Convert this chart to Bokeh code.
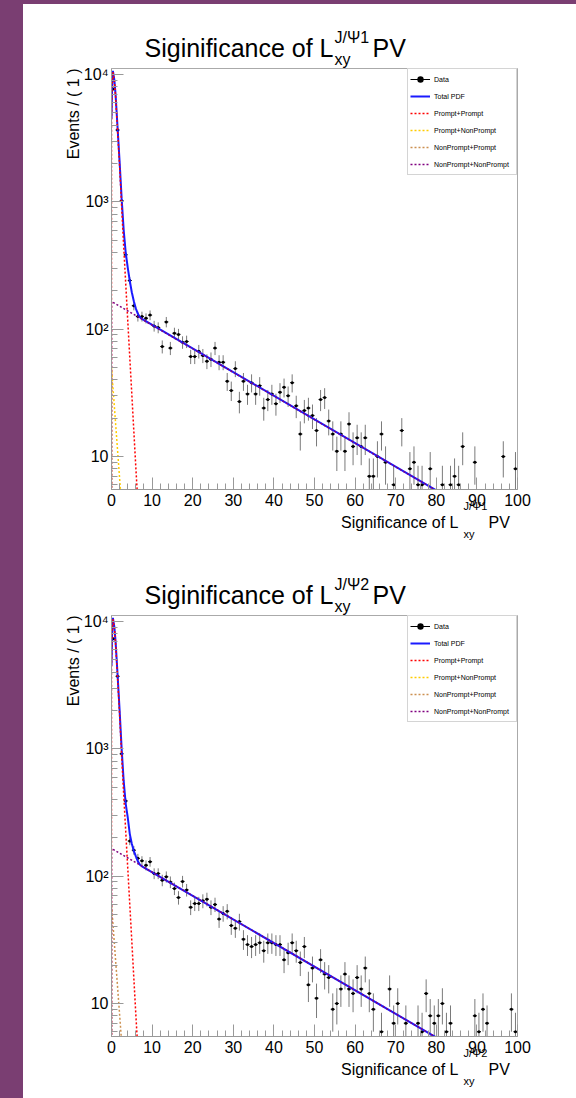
import math
from bokeh.plotting import figure
from bokeh.models import (Range1d, FixedTicker, Label, Legend, LegendItem,
                          ColumnDataSource, Spacer, GridBox)
from bokeh.layouts import column, row
from bokeh.embed import file_html
from bokeh.resources import INLINE

# ---------------- data ----------------
bin_lo, bin_hi, n_bins = 0.0, 100.0, 100

counts_psi1 = [7700, 3670, 1020, 384, 241, 153, 126, 126, 122, 129,
               106, 103, 73, 114, 71, 93, 91, 79, 80, 61,
               61, 67, 62, 56, 58, 71, 55, 55, 39, 33,
               49, 27, 39, 31, 38, 31, 36, 24, 28, 31,
               26, 32, 35, 30, 38, 25, 15, 23, 24, 21,
               16, 28, 29, 19, 15, 11, 15, 11, 18, 12,
               14, 12, 14, 7, 7, 10, 15, 9, 3, 6,
               3, 16, 2, 8, 9, 6, 6, 3, 8, 3,
               2, 6, 3, 6, 7, 6, 12, 2, 3, 9,
               2, 3, 2, 3, 2, 2, 10, 3, 2, 8]

counts_psi2 = [7330, 3720, 915, 390, 189, 160, 138, 132, 122, 130,
               105, 105, 93, 99, 90, 80, 68, 91, 78, 57,
               61, 61, 64, 66, 57, 60, 46, 51, 53, 41,
               39, 44, 32, 29, 28, 29, 30, 26, 30, 30,
               29, 29, 22, 25, 30, 26, 21, 28, 14, 19,
               11, 22, 17, 16, 9, 10, 13, 17, 13, 12,
               16, 13, 19, 12, 9, 3, 6, 3, 13, 7,
               10, 2, 7, 3, 2, 7, 6, 12, 8, 7,
               8, 10, 6, 7, 3, 2, 3, 2, 3, 8,
               6, 9, 7, 2, 3, 2, 3, 2, 9, 6]

# fitted curves (x, value)
total1_x = [0.0, 0.15, 0.35, 0.7, 1.0, 1.5, 2.0, 2.5, 3.0, 3.5, 4.0, 4.5, 5.0, 5.5, 6.0, 6.5, 7.0, 7.5, 100.0]
total1_y = [4500, 8200, 10700, 9100, 7000, 3800, 2060, 1060, 600, 400, 305, 240, 195, 166, 145, 132, 124, 120.5, 2.3]
pp1_x = [0.0, 0.0, 0.15, 0.35, 0.7, 1.0, 1.5, 2.0, 2.5, 3.0, 3.5, 4.0, 4.5, 5.0, 5.5, 6.0, 6.5, 7.0]
pp1_y = [1, 4300, 8000, 10500, 8900, 6800, 3630, 1900, 910, 447, 229, 117, 60, 31, 15.8, 8.1, 4.3, 2.2]
pnp1_x = [0.0, 0.0, 3.0]
pnp1_y = [1, 50, 2.46]
npp1_x = [0.0, 2.0]
npp1_y = [1.0, 0.1]
npnp1_x = [0.0, 0.0, 100.0]
npnp1_y = [1, 165, 2.3]

total2_x = [0.0, 0.15, 0.35, 0.7, 1.0, 1.5, 2.0, 2.5, 3.0, 3.5, 4.0, 4.5, 5.0, 5.5, 6.0, 6.5, 7.0, 7.5, 100.0]
total2_y = [4500, 8200, 10700, 9100, 7000, 3800, 2000, 1000, 560, 370, 290, 215, 180, 158, 143, 131, 123, 119.5, 2.3]
pp2_x = [0.0, 0.0, 0.15, 0.35, 0.7, 1.0, 1.5, 2.0, 2.5, 3.0, 3.5, 4.0, 4.5, 5.0, 5.5, 6.0, 6.5, 7.0]
pp2_y = [1, 4300, 8000, 10500, 8900, 6800, 3630, 1850, 880, 440, 226, 116, 60, 31, 15.8, 8.1, 4.3, 2.2]
pnp2_x = [0.0, 2.0]
pnp2_y = [1.0, 0.1]
npp2_x = [0.0, 0.0, 3.0]
npp2_y = [1, 60, 3.0]
npnp2_x = [0.0, 0.0, 100.0]
npnp2_y = [1, 165, 2.3]

x_major_ticks = [0, 10, 20, 30, 40, 50, 60, 70, 80, 90, 100]
x_minor_ticks = [v for v in range(0, 101, 2) if v % 10]
y_major_ticks = [10, 100, 1000, 10000]
y_minor_ticks = [6, 7, 8, 9, 20, 30, 40, 50, 60, 70, 80, 90,
                 200, 300, 400, 500, 600, 700, 800, 900,
                 2000, 3000, 4000, 5000, 6000, 7000, 8000, 9000]
y_tick_labels = {10: "10", 100: "10²", 1000: "10³", 10000: "10⁴"}
y_min, y_max = 5.5, 11170

legend_labels = ["Data", "Total PDF", "Prompt+Prompt", "Prompt+NonPrompt",
                 "NonPrompt+Prompt", "NonPrompt+NonPrompt"]
panel_tags = ["1", "2"]

# ---------------- style ----------------
FONT = "Liberation Sans"
PURPLE_BG = "#7a3e72"
AX_COL = "#999999"
PAGE_W, PAGE_H = 576, 1098
LEFT_STRIP, TOP_STRIP = 23, 4
W, H = PAGE_W - LEFT_STRIP, (PAGE_H - TOP_STRIP) // 2
BL, BR, BT, BB = 88, 59, 64, 62


def make_panel(counts, curves):
    p = figure(width=W, height=H, x_range=Range1d(bin_lo, bin_hi),
               y_range=Range1d(y_min, y_max), y_axis_type="log",
               output_backend="svg", toolbar_location=None,
               min_border_left=BL, min_border_right=BR,
               min_border_top=BT, min_border_bottom=BB,
               background_fill_color="white", border_fill_color="white",
               outline_line_color="#aaaaaa")
    p.xgrid.visible = False
    p.ygrid.visible = False

    width = (bin_hi - bin_lo) / n_bins
    xs, ns, lo, hi, x0, x1 = [], [], [], [], [], []
    for i, n in enumerate(counts):
        if n <= 0:
            continue
        c = bin_lo + (i + 0.5) * width
        e = math.sqrt(n)
        xs.append(c); ns.append(n)
        lo.append(max(n - e, 0.01)); hi.append(n + e)
        x0.append(c - width / 2); x1.append(c + width / 2)
    src = ColumnDataSource(dict(x=xs, n=ns, lo=lo, hi=hi, x0=x0, x1=x1))

    p.segment(x0="x", y0="lo", x1="x", y1="hi", source=src,
              line_color="#7a7a7a", line_width=1)
    r_xerr = p.segment(x0="x0", y0="n", x1="x1", y1="n", source=src,
                       line_color="black", line_width=1)
    r_pts = p.scatter(x="x", y="n", source=src, marker="circle", size=3,
                      fill_color="black", line_color=None)

    styles = [("#1a1aff", 2.0, "solid"), ("#ff0000", 1.5, "2 2"),
              ("#ffcc00", 1.5, "2 2"), ("#cc9050", 1.5, "2 2"),
              ("#800080", 1.5, "2 2")]
    rends = []
    for (cx, cy), (col, lw, dash) in zip(curves, styles):
        r = p.line(x=cx, y=cy, line_color=col, line_width=lw, line_dash=dash)
        rends.append(r)

    items = [LegendItem(label=legend_labels[0], renderers=[r_xerr, r_pts])]
    for lab, r in zip(legend_labels[1:], rends):
        items.append(LegendItem(label=lab, renderers=[r]))
    leg = Legend(items=items, location="top_right", margin=0, padding=2,
                 spacing=1, glyph_width=20, glyph_height=16, label_height=16,
                 label_width=80, label_standoff=4,
                 label_text_font=FONT, label_text_font_size="7px",
                 label_text_color="black",
                 border_line_color="#aaaaaa", border_line_width=1,
                 background_fill_color="white", background_fill_alpha=1.0)
    p.add_layout(leg)

    for ax in (p.xaxis[0], p.yaxis[0]):
        ax.axis_line_color = AX_COL
        ax.major_tick_line_color = AX_COL
        ax.minor_tick_line_color = AX_COL
        ax.major_tick_in = 12
        ax.major_tick_out = 0
        ax.minor_tick_in = 6
        ax.minor_tick_out = 0
        ax.major_label_text_font = FONT
        ax.major_label_text_font_size = "16px"
        ax.major_label_text_color = "black"
    p.xaxis.ticker = FixedTicker(ticks=x_major_ticks, minor_ticks=x_minor_ticks)
    p.yaxis.ticker = FixedTicker(ticks=y_major_ticks, minor_ticks=y_minor_ticks)
    p.yaxis.major_label_overrides = y_tick_labels
    p.xaxis.major_label_standoff = 4
    p.yaxis.major_label_standoff = 3
    return p


p1 = make_panel(counts_psi1,
                [(total1_x, total1_y), (pp1_x, pp1_y), (pnp1_x, pnp1_y),
                 (npp1_x, npp1_y), (npnp1_x, npnp1_y)])
p2 = make_panel(counts_psi2,
                [(total2_x, total2_y), (pp2_x, pp2_y), (pnp2_x, pnp2_y),
                 (npp2_x, npp2_y), (npnp2_x, npnp2_y)])

# transparent overlay figure (page pixel coordinates) holding the texts
ov = figure(width=PAGE_W, height=PAGE_H, x_range=Range1d(0, PAGE_W),
            y_range=Range1d(PAGE_H, 0), output_backend="svg",
            toolbar_location=None, x_axis_location=None, y_axis_location=None,
            min_border=0, min_border_left=0, min_border_right=0,
            min_border_top=0, min_border_bottom=0,
            background_fill_alpha=0, border_fill_alpha=0,
            outline_line_color=None)
ov.xgrid.visible = False
ov.ygrid.visible = False
for g in ov.renderers:
    pass


def add_text(text, x, y, size, align="left", angle=0.0):
    ov.add_layout(Label(x=x, y=y, text=text, text_font=FONT,
                        text_font_size=f"{size}px", text_align=align,
                        text_baseline="alphabetic", text_color="black",
                        angle=angle))


for k, tag in enumerate(panel_tags):
    dy = k * H
    # title
    add_text("Siginificance of L", 333, 47 + dy, 25, align="right")
    add_text("J/Ψ" + tag, 334, 37 + dy, 16)
    add_text("xy", 334, 59 + dy, 16)
    add_text("PV", 372, 47 + dy, 25)
    # x axis title
    add_text("Significance of L", 458, 522 + dy, 16, align="right")
    add_text("J/Ψ" + tag, 463, 505 + dy, 11)
    add_text("xy", 463, 533 + dy, 11)
    add_text("PV", 488, 522 + dy, 16)
    # y axis title
    add_text("Events / ( 1 )", 73, 68 + dy, 16, align="right", angle=math.pi / 2)

top_strip = Spacer(width=PAGE_W, height=TOP_STRIP, styles={"background-color": PURPLE_BG})
left_strip = Spacer(width=LEFT_STRIP, height=2 * H, styles={"background-color": PURPLE_BG})
plots = column(p1, p2, spacing=0, styles={"background-color": "white"})
base = column(top_strip, row(left_strip, plots, spacing=0), spacing=0,
              styles={"background-color": "white"})
layout = GridBox(children=[(base, 0, 0), (ov, 0, 0)])

open("out.html", "w").write(file_html(layout, INLINE))
